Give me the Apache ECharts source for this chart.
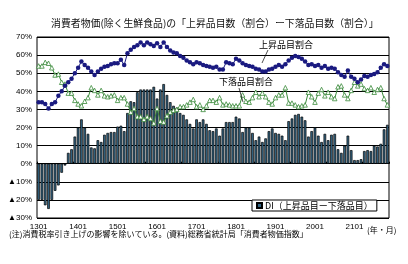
<!DOCTYPE html>
<html><head><meta charset="utf-8">
<script src="https://cdn.jsdelivr.net/npm/echarts@6/dist/echarts.min.js"></script>
<style>html,body{margin:0;padding:0;background:#fff}#c{width:408px;height:264px}</style>
</head><body><div id="c"></div>
<script>
const categories = [
 '1301','1302','1303','1304','1305','1306','1307','1308','1309','1310','1311','1312',
 '1401','1402','1403','1404','1405','1406','1407','1408','1409','1410','1411','1412',
 '1501','1502','1503','1504','1505','1506','1507','1508','1509','1510','1511','1512',
 '1601','1602','1603','1604','1605','1606','1607','1608','1609','1610','1611','1612',
 '1701','1702','1703','1704','1705','1706','1707','1708','1709','1710','1711','1712',
 '1801','1802','1803','1804','1805','1806','1807','1808','1809','1810','1811','1812',
 '1901','1902','1903','1904','1905','1906','1907','1908','1909','1910','1911','1912',
 '2001','2002','2003','2004','2005','2006','2007','2008','2009','2010','2011','2012',
 '2101','2102','2103','2104','2105','2106','2107','2108','2109','2110','2111'
];
const diValues = [
 -20,-20,-23,-25,-20,-15,-12,-5,-1,6,8,15,
 20,24.5,20,16.5,9,8.5,13,12,16,17,17.5,17.5,
 20.5,21,18,28,34.5,34,39.5,41,41,41,41,42.5,
 36,41,44,38,34,32,31,28,27,24.5,22,19.5,
 24.5,23,24.5,22,18.5,18,19.5,15.5,19.5,23,23,23,
 26,25,17.5,20,20,17,13,15,12,14,18,19.5,
 17,16.5,15.5,13,23.5,25,27,27.5,26,24,15,18,
 20,15.5,12,16.5,13,16,16.5,8,6,10,15.5,7.5,
 2,2,2.5,7,7.5,7,10,9.5,11,19,21.5
];
const upValues = [
 34,34,33,30.5,33,34,37.5,40,43,45,47,50,
 53,56.5,54.5,53,51,49,51,52.5,53.5,54,55,55.5,
 55.5,57.5,54.5,61,63,64.5,65.5,67,65.5,67,66,65,
 66.5,64.5,67,64.5,62.5,61.5,61,59.5,58.5,57,56,55,
 56,55.5,54.5,54,53.5,53,53.5,52,52,56,55.5,55,
 58,57,55.5,54.5,54,53.5,52.5,52,51,51,52,52.5,
 53.5,54.5,53.5,55,57,58.5,59.5,59,58,56.5,54.5,55,
 54,54.5,53,54,52.5,53,52.5,50.5,49,48,51.5,48,
 47,45,46.5,48.5,48,49,49.5,50.5,53,55,54
];
const downValues = [
 54,54,56,55.5,53,49,49.5,45,44,39,39,35,
 33,32,34.5,36.5,42,40.5,38,40.5,37.5,37,37.5,38,
 35,36.5,36.5,33,28.5,30.5,26,26,24.5,26,25,22.5,
 30.5,23.5,23,26.5,28.5,29.5,30,31.5,31.5,32.5,34,35.5,
 31.5,32.5,30,32,35,35,34,36.5,32.5,33,32.5,32,
 32,32,38,34.5,34,36.5,39.5,37,39,37,34,33,
 36.5,38,38,42,33.5,33.5,32.5,31.5,32,32.5,39.5,37,
 34,39,41,37.5,39.5,37,36,42.5,43,38,36,40.5,
 45,43,44,41.5,40.5,42,39.5,41,42,36,32.5
];
const yTicks = {min: -30, max: 70, interval: 10};

const fontJP = '"Noto Sans CJK JP","Liberation Sans",sans-serif';
const fontNum = '"Liberation Sans","Noto Sans CJK JP",sans-serif';
const chart = echarts.init(document.getElementById('c'), null, {renderer: 'canvas'});
chart.setOption({
  animation: false,
  backgroundColor: '#fff',
  title: {
    text: '消費者物価(除く生鮮食品)の「上昇品目数（割合）ー下落品目数（割合）」',
    left: 51, top: 18, padding: 0,
    textStyle: {fontFamily: fontJP, fontSize: 9.9, fontWeight: 'normal', color: '#111'}
  },
  legend: {
    data: [{name: 'DI（上昇品目ー下落品目）', icon: 'rect'}],
    left: 252, top: 200, padding: [1, 4, 1, 4],
    itemWidth: 5, itemHeight: 5, itemGap: 2,
    borderColor: '#000', borderWidth: 1, backgroundColor: '#fff',
    textStyle: {fontFamily: fontJP, fontSize: 9, color: '#000', padding: [0, 0, 0, -2]}
  },
  grid: {left: 37, right: 19, top: 37, bottom: 46, show: true, borderColor: '#000', borderWidth: 1},
  xAxis: [{
    type: 'category', data: categories, boundaryGap: true,
    axisLine: {onZero: true, lineStyle: {color: '#000', width: 1}},
    axisTick: {show: true, inside: true, length: 2, lineStyle: {color: '#000'}},
    axisLabel: {show: false}
  }, {
    type: 'category', data: categories, boundaryGap: true, position: 'bottom',
    axisLine: {show: false}, axisTick: {show: false},
    axisLabel: {interval: 11, fontFamily: fontNum, fontSize: 8, color: '#000', margin: 5}
  }],
  yAxis: {
    type: 'value', min: yTicks.min, max: yTicks.max, interval: yTicks.interval,
    axisLine: {show: false}, axisTick: {show: false},
    splitLine: {lineStyle: {color: '#000', width: 1}},
    axisLabel: {
      fontFamily: fontNum, fontSize: 8, color: '#000', margin: 5,
      formatter: v => v < 0 ? '▲' + (-v) + '%' : v + '%'
    }
  },
  series: [{
    name: 'DI（上昇品目ー下落品目）', type: 'bar', data: diValues, xAxisIndex: 0,
    barCategoryGap: '20%',
    itemStyle: {color: '#336584', borderColor: '#000', borderWidth: 0.7}
  }, {
    name: '上昇品目割合', type: 'line', data: upValues, xAxisIndex: 0,
    symbol: 'circle', symbolSize: 4.5, z: 5, showAllSymbol: true,
    lineStyle: {color: '#1a1a80', width: 1},
    itemStyle: {color: '#1a1a80'}
  }, {
    name: '下落品目割合', type: 'line', data: downValues, xAxisIndex: 0,
    symbol: 'triangle', symbolSize: 4.5, z: 4, showAllSymbol: true,
    lineStyle: {color: '#3a8a3a', width: 1},
    itemStyle: {color: '#fff', borderColor: '#3a8a3a', borderWidth: 0.8}
  }],
  graphic: [
    {type: 'text', left: 259, top: 40, z: 10, style: {text: '上昇品目割合', font: '9px ' + fontJP, fill: '#000'}},
    {type: 'line', z: 10, shape: {x1: 268, y1: 50, x2: 262, y2: 63}, style: {stroke: '#000', lineWidth: 0.7}},
    {type: 'text', left: 219, top: 77, z: 10, style: {text: '下落品目割合', font: '9px ' + fontJP, fill: '#000'}},
    {type: 'line', z: 10, shape: {x1: 239, y1: 88, x2: 243, y2: 102}, style: {stroke: '#000', lineWidth: 0.7}},
    {type: 'text', left: 9, top: 230, style: {text: '(注)消費税率引き上げの影響を除いている。(資料)総務省統計局「消費者物価指数」', font: '8px ' + fontJP, fill: '#000'}},
    {type: 'text', left: 367, top: 226, style: {text: '(年・月)', font: '8px ' + fontJP, fill: '#000'}}
  ]
});
</script></body></html>
